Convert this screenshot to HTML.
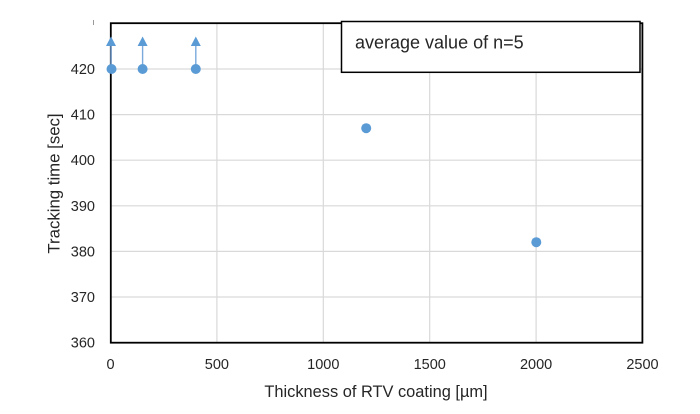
<!DOCTYPE html>
<html><head><meta charset="utf-8"><style>
html,body{margin:0;padding:0;background:#fff;}
svg{display:block;}
text{font-family:"Liberation Sans",sans-serif;fill:#262626;}
</style></head><body>
<svg width="700" height="414" viewBox="0 0 700 414" xmlns="http://www.w3.org/2000/svg">
<rect width="700" height="414" fill="#fff"/>
<!-- gridlines -->
<g stroke="#d9d9d9" stroke-width="1.2">
<line x1="111" y1="69" x2="642" y2="69"/>
<line x1="111" y1="114.6" x2="642" y2="114.6"/>
<line x1="111" y1="160.2" x2="642" y2="160.2"/>
<line x1="111" y1="205.8" x2="642" y2="205.8"/>
<line x1="111" y1="251.4" x2="642" y2="251.4"/>
<line x1="111" y1="297" x2="642" y2="297"/>
<line x1="216.9" y1="23" x2="216.9" y2="342.7"/>
<line x1="323.3" y1="23" x2="323.3" y2="342.7"/>
<line x1="429.7" y1="23" x2="429.7" y2="342.7"/>
<line x1="536.1" y1="23" x2="536.1" y2="342.7"/>
</g>
<!-- plot border -->
<rect x="110.8" y="23.2" width="531.6" height="319.5" fill="none" stroke="#000" stroke-width="1.8"/>
<!-- small mark -->
<line x1="93.5" y1="20" x2="93.5" y2="25" stroke="#999" stroke-width="1"/>
<!-- error lines -->
<g stroke="#7aa9dc" stroke-width="1.4">
<line x1="111" y1="69" x2="111" y2="45"/>
<line x1="142.6" y1="69" x2="142.6" y2="45"/>
<line x1="195.8" y1="69" x2="195.8" y2="45"/>
</g>
<g fill="#5b9bd5">
<polygon points="111,36.5 106,46 116,46"/>
<polygon points="142.6,36.5 137.6,46 147.6,46"/>
<polygon points="195.8,36.5 190.8,46 200.8,46"/>
<circle cx="111.5" cy="69" r="5"/>
<circle cx="142.6" cy="69" r="5"/>
<circle cx="195.8" cy="69" r="5"/>
<circle cx="366.2" cy="128.2" r="5"/>
<circle cx="536.3" cy="242.2" r="5"/>
</g>
<!-- legend box -->
<rect x="341.5" y="21.5" width="298.5" height="50.8" fill="#fff" stroke="#000" stroke-width="1.5"/>
<text x="355" y="48.5" font-size="18" fill="#000">average value of n=5</text>
<!-- y tick labels -->
<g font-size="14.5" text-anchor="end">
<text x="95" y="74">420</text>
<text x="95" y="119.6">410</text>
<text x="95" y="165.2">400</text>
<text x="95" y="210.8">390</text>
<text x="95" y="256.4">380</text>
<text x="95" y="302">370</text>
<text x="95" y="347.7">360</text>
</g>
<!-- x tick labels -->
<g font-size="14.5" text-anchor="middle">
<text x="110.5" y="369">0</text>
<text x="216.9" y="369">500</text>
<text x="323.3" y="369">1000</text>
<text x="429.7" y="369">1500</text>
<text x="536.1" y="369">2000</text>
<text x="642.5" y="369">2500</text>
</g>
<!-- axis titles -->
<text x="376" y="397" font-size="16.4" text-anchor="middle">Thickness of RTV coating [µm]</text>
<text transform="translate(59.5,183.5) rotate(-90)" font-size="16.8" text-anchor="middle">Tracking time [sec]</text>
</svg>
</body></html>
